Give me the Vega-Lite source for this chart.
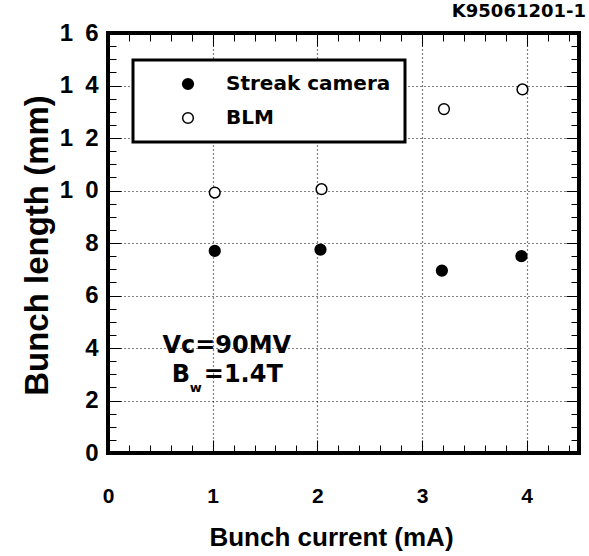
{
  "$schema": "https://vega.github.io/schema/vega-lite/v6.json",
  "width": 471,
  "height": 420,
  "autosize": {"type": "none"},
  "padding": {"left": 108, "top": 33, "right": 10, "bottom": 103},
  "background": "white",
  "title": {"text": "K95061201-1", "anchor": "end", "frame": "group", "font": "DejaVu Sans", "fontWeight": "bold", "fontSize": 18, "color": "black", "offset": 0, "dx": 7},
  "data": {"values": [
    {"current": 1.02, "length": 7.7, "series": "Streak camera"},
    {"current": 2.03, "length": 7.75, "series": "Streak camera"},
    {"current": 3.19, "length": 6.95, "series": "Streak camera"},
    {"current": 3.95, "length": 7.5, "series": "Streak camera"},
    {"current": 1.02, "length": 9.92, "series": "BLM"},
    {"current": 2.04, "length": 10.05, "series": "BLM"},
    {"current": 3.21, "length": 13.1, "series": "BLM"},
    {"current": 3.96, "length": 13.85, "series": "BLM"}
  ]},
  "config": {
    "view": {"stroke": "black", "strokeWidth": 4},
    "legend": {"strokeWidth": 3},
    "axis": {"gridColor": "black", "gridDash": [1, 3], "gridOpacity": 1, "gridWidth": 1.2, "labelColor": "black", "titleColor": "black", "labelFont": "Liberation Sans", "titleFont": "Liberation Sans", "labelFontWeight": "bold", "titleFontWeight": "bold"}
  },
  "resolve": {"scale": {"x": "independent", "y": "independent"}, "axis": {"x": "independent", "y": "independent"}},
  "layer": [
    {
      "mark": {"type": "point", "filled": true, "color": "white", "size": 4},
      "encoding": {
        "x": {"field": "current", "type": "quantitative", "scale": {"domain": [0, 4.5], "nice": false, "zero": false},
          "axis": {"orient": "bottom", "values": [0, 1, 2, 3, 4], "domain": false, "ticks": true, "tickSize": -13, "tickColor": "black", "labels": false, "grid": false, "title": null}},
        "y": {"field": "length", "type": "quantitative", "scale": {"domain": [0, 16], "nice": false},
          "axis": {"orient": "left", "values": [0, 2, 4, 6, 8, 10, 12, 14, 16], "domain": false, "ticks": true, "tickSize": -13, "tickColor": "black", "labels": false, "grid": false, "title": null}}
      }
    },
    {
      "mark": {"type": "point", "filled": true, "color": "white", "size": 4},
      "encoding": {
        "x": {"field": "current", "type": "quantitative", "scale": {"domain": [0, 4.5], "nice": false, "zero": false},
          "axis": {"orient": "bottom", "values": [0.2, 0.4, 0.6, 0.8, 1.2, 1.4, 1.6, 1.8, 2.2, 2.4, 2.6, 2.8, 3.2, 3.4, 3.6, 3.8, 4.2, 4.4], "domain": false, "ticks": true, "tickSize": -8, "tickColor": "black", "labels": false, "grid": false, "title": null}},
        "y": {"field": "length", "type": "quantitative", "scale": {"domain": [0, 16], "nice": false},
          "axis": {"orient": "left", "values": [0.5, 1, 1.5, 2.5, 3, 3.5, 4.5, 5, 5.5, 6.5, 7, 7.5, 8.5, 9, 9.5, 10.5, 11, 11.5, 12.5, 13, 13.5, 14.5, 15, 15.5], "domain": false, "ticks": true, "tickSize": -8, "tickColor": "black", "labels": false, "grid": false, "title": null}}
      }
    },
    {
      "mark": {"type": "point", "filled": true, "color": "white", "size": 4},
      "encoding": {
        "x": {"field": "current", "type": "quantitative", "scale": {"domain": [0, 4.5], "nice": false, "zero": false},
          "axis": {"orient": "top", "values": [0, 1, 2, 3, 4], "domain": false, "ticks": true, "tickSize": -13, "tickColor": "black", "labels": false, "grid": false, "title": null}},
        "y": {"field": "length", "type": "quantitative", "scale": {"domain": [0, 16], "nice": false},
          "axis": {"orient": "right", "values": [0, 2, 4, 6, 8, 10, 12, 14, 16], "domain": false, "ticks": true, "tickSize": -13, "tickColor": "black", "labels": false, "grid": false, "title": null}}
      }
    },
    {
      "mark": {"type": "point", "filled": true, "color": "white", "size": 4},
      "encoding": {
        "x": {"field": "current", "type": "quantitative", "scale": {"domain": [0, 4.5], "nice": false, "zero": false},
          "axis": {"orient": "top", "values": [0.2, 0.4, 0.6, 0.8, 1.2, 1.4, 1.6, 1.8, 2.2, 2.4, 2.6, 2.8, 3.2, 3.4, 3.6, 3.8, 4.2, 4.4], "domain": false, "ticks": true, "tickSize": -8, "tickColor": "black", "labels": false, "grid": false, "title": null}},
        "y": {"field": "length", "type": "quantitative", "scale": {"domain": [0, 16], "nice": false},
          "axis": {"orient": "right", "values": [0.5, 1, 1.5, 2.5, 3, 3.5, 4.5, 5, 5.5, 6.5, 7, 7.5, 8.5, 9, 9.5, 10.5, 11, 11.5, 12.5, 13, 13.5, 14.5, 15, 15.5], "domain": false, "ticks": true, "tickSize": -8, "tickColor": "black", "labels": false, "grid": false, "title": null}}
      }
    },
    {
      "mark": {"type": "point", "shape": "circle", "filled": true, "stroke": "black", "strokeWidth": 1.5, "size": 115, "opacity": 1},
      "encoding": {
        "x": {"field": "current", "type": "quantitative", "scale": {"domain": [0, 4.5], "nice": false, "zero": false},
          "axis": {"orient": "bottom", "values": [0, 1, 2, 3, 4], "domain": false, "ticks": false, "grid": true, "labels": true, "labelFontSize": 21, "labelPadding": 32, "labelFlush": false, "labelOverlap": false, "format": "d",
            "title": "Bunch current (mA)", "titleFontSize": 26, "titleX": 223, "titleY": 92, "titleBaseline": "alphabetic", "titleAlign": "center", "zindex": 0}},
        "y": {"field": "length", "type": "quantitative", "scale": {"domain": [0, 16], "nice": false},
          "axis": {"orient": "left", "values": [0, 2, 4, 6, 8, 10, 12, 14, 16], "domain": false, "ticks": false, "grid": true, "labels": true, "labelFontSize": 24, "labelPadding": 10, "labelFlush": false, "labelOverlap": false,
            "labelExpr": "length(datum.label) > 1 ? substring(datum.label, 0, 1) + '\u2002' + substring(datum.label, 1) : datum.label",
            "title": "Bunch length (mm)", "titleFontSize": 33, "titleX": -61, "titleY": 212, "titleAngle": -90, "titleBaseline": "alphabetic", "titleAlign": "center", "zindex": 0}},
        "fill": {"field": "series", "type": "nominal", "scale": {"domain": ["Streak camera", "BLM"], "range": ["black", "white"]},
          "legend": {"title": null, "orient": "none", "legendX": 25, "legendY": 27, "padding": 14, "strokeColor": "black", "fillColor": "white", "symbolType": "circle", "symbolSize": 115, "symbolStrokeColor": "black", "symbolStrokeWidth": 1.5, "symbolOffset": 31, "labelOffset": 28, "labelLimit": 400, "labelFont": "DejaVu Sans", "labelFontWeight": "bold", "labelFontSize": 20, "labelColor": "black", "rowPadding": 14}}
      }
    },
    {
      "data": {"values": [{"label": "Vc=90MV"}]},
      "mark": {"type": "text", "align": "left", "baseline": "alphabetic", "font": "DejaVu Sans", "fontWeight": "bold", "fontSize": 24, "color": "black"},
      "encoding": {
        "x": {"datum": 0.52, "type": "quantitative", "scale": {"domain": [0, 4.5], "nice": false, "zero": false}, "axis": null},
        "y": {"datum": 3.81, "type": "quantitative", "scale": {"domain": [0, 16], "nice": false}, "axis": null},
        "text": {"field": "label"}
      }
    },
    {
      "data": {"values": [{"label": "B"}]},
      "mark": {"type": "text", "align": "left", "baseline": "alphabetic", "font": "DejaVu Sans", "fontWeight": "bold", "fontSize": 24, "color": "black"},
      "encoding": {
        "x": {"datum": 0.61, "type": "quantitative", "scale": {"domain": [0, 4.5], "nice": false, "zero": false}, "axis": null},
        "y": {"datum": 2.7, "type": "quantitative", "scale": {"domain": [0, 16], "nice": false}, "axis": null},
        "text": {"field": "label"}
      }
    },
    {
      "data": {"values": [{"label": "w"}]},
      "mark": {"type": "text", "align": "left", "baseline": "alphabetic", "font": "DejaVu Sans", "fontWeight": "bold", "fontSize": 13, "color": "black"},
      "encoding": {
        "x": {"datum": 0.78, "type": "quantitative", "scale": {"domain": [0, 4.5], "nice": false, "zero": false}, "axis": null},
        "y": {"datum": 2.32, "type": "quantitative", "scale": {"domain": [0, 16], "nice": false}, "axis": null},
        "text": {"field": "label"}
      }
    },
    {
      "data": {"values": [{"label": "=1.4T"}]},
      "mark": {"type": "text", "align": "left", "baseline": "alphabetic", "font": "DejaVu Sans", "fontWeight": "bold", "fontSize": 24, "color": "black"},
      "encoding": {
        "x": {"datum": 0.915, "type": "quantitative", "scale": {"domain": [0, 4.5], "nice": false, "zero": false}, "axis": null},
        "y": {"datum": 2.7, "type": "quantitative", "scale": {"domain": [0, 16], "nice": false}, "axis": null},
        "text": {"field": "label"}
      }
    }
  ]
}
